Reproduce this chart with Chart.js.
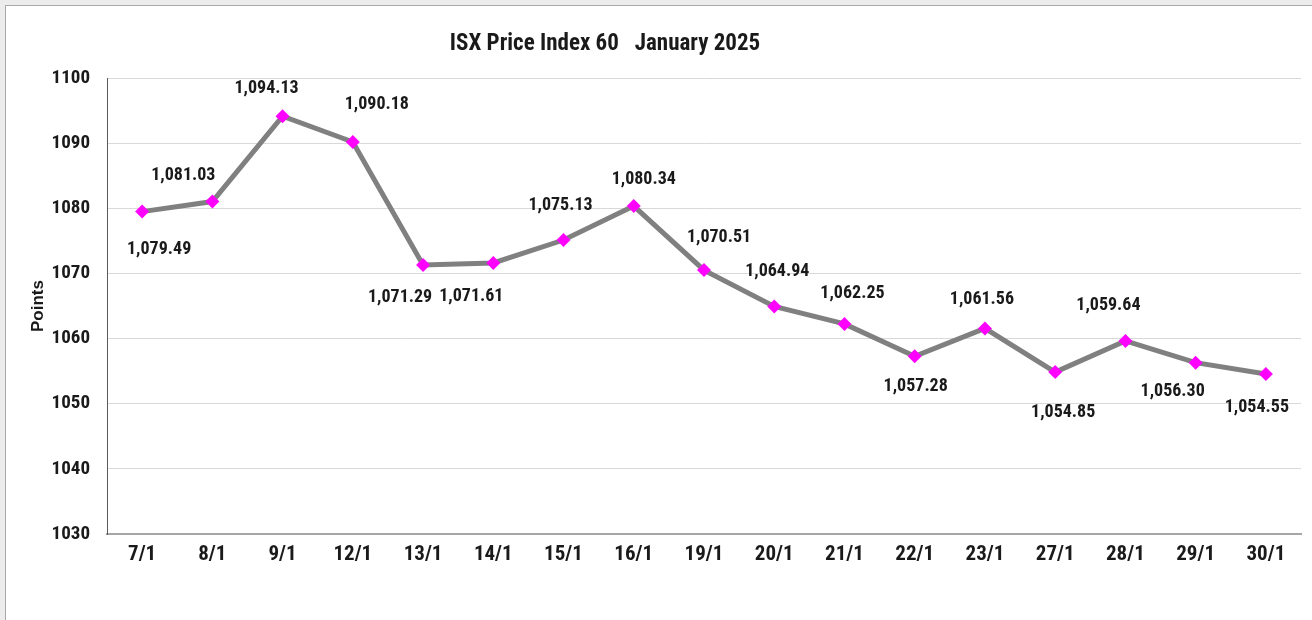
<!DOCTYPE html>
<html>
<head>
<meta charset="utf-8">
<script src="https://cdn.jsdelivr.net/npm/chart.js@4.4.1/dist/chart.umd.min.js"></script>
<style>
  html, body { margin: 0; padding: 0; background: #ececec; }
  #frame { position: absolute; left: 5px; top: 5px; width: 1310px; height: 620px; background: #ffffff; border-left: 1px solid #a8a8a8; border-top: 1px solid #a8a8a8; }
  #wrap { position: absolute; left: 0; top: 0; width: 1312px; height: 620px; }
</style>
</head>
<body>
<div id="frame"></div>
<div id="wrap"><canvas id="c" width="1312" height="620"></canvas></div>
<script>
const categories = ['7/1','8/1','9/1','12/1','13/1','14/1','15/1','16/1','19/1','20/1','21/1','22/1','23/1','27/1','28/1','29/1','30/1'];
const indexValues = [1079.49,1081.03,1094.13,1090.18,1071.29,1071.61,1075.13,1080.34,1070.51,1064.94,1062.25,1057.28,1061.56,1054.85,1059.64,1056.30,1054.55];
const yTicks = [1030,1040,1050,1060,1070,1080,1090,1100];
const chartTitle = 'ISX Price Index 60   January 2025';
const yTitle = 'Points';
// label placement relative to each point (dx, dy in px)
const labelDx = [17,-29,-16,24,-23,-22,-3,10,15,3,8,1,-3,8,-17,-23,-9];
const labelDy = [38,-26,-28,-37,32,34,-35,-27,-33,-35,-30,30,-29,40,-35,29,33];

const FONT = '"Liberation Sans Narrow", "Arial Narrow", "Roboto Condensed", "Liberation Sans", sans-serif';

const labelPlugin = {
  id: 'pointLabels',
  afterDatasetsDraw(chart) {
    const ctx = chart.ctx;
    const meta = chart.getDatasetMeta(0);
    ctx.save();
    ctx.font = 'bold 18px ' + FONT;
    ctx.fillStyle = '#1a1a1a';
    ctx.textAlign = 'center';
    ctx.textBaseline = 'middle';
    meta.data.forEach((pt, i) => {
      const v = indexValues[i].toLocaleString('en-US', {minimumFractionDigits: 2, maximumFractionDigits: 2});
      ctx.fillText(v, pt.x + labelDx[i], pt.y + labelDy[i]);
    });
    ctx.restore();
  }
};

const titlePlugin = {
  id: 'customTitle',
  afterDraw(chart) {
    const ctx = chart.ctx;
    ctx.save();
    ctx.font = 'bold 23px ' + FONT;
    ctx.fillStyle = '#1a1a1a';
    ctx.textAlign = 'center';
    ctx.textBaseline = 'middle';
    ctx.fillText(chartTitle, 605, 44);
    ctx.restore();
  }
};

new Chart(document.getElementById('c'), {
  type: 'line',
  data: {
    labels: categories,
    datasets: [{
      data: indexValues,
      borderColor: '#808080',
      borderWidth: 5,
      pointStyle: 'rectRot',
      pointRadius: 7,
      pointHoverRadius: 7,
      pointBackgroundColor: '#ff00ff',
      pointBorderColor: '#ff00ff',
      pointBorderWidth: 0,
      tension: 0,
      fill: false
    }]
  },
  options: {
    responsive: false,
    animation: false,
    events: [],
    layout: { padding: { left: 0, right: 11, top: 78, bottom: 0 } },
    plugins: { legend: { display: false }, title: { display: false }, tooltip: { enabled: false } },
    scales: {
      x: {
        offset: true,
        grid: { display: false, drawTicks: false },
        border: { display: true, color: '#a6a6a6', width: 2 },
        ticks: { color: '#1a1a1a', font: { family: FONT, size: 21, weight: 'bold' }, padding: 8, maxRotation: 0, autoSkip: false },
        afterFit(s) { s.height = 86; }
      },
      y: {
        min: 1030, max: 1100,
        afterBuildTicks(s) { s.ticks = yTicks.map(v => ({ value: v })); },
        grid: { color: '#d9d9d9', lineWidth: 1, drawTicks: false },
        border: { display: true, color: '#595959', width: 1 },
        ticks: { color: '#1a1a1a', font: { family: FONT, size: 19, weight: 'bold' }, padding: 17, callback: v => String(v) },
        title: { display: true, text: yTitle, color: '#1a1a1a', font: { family: 'Liberation Sans, Arial, sans-serif', size: 17, weight: 'bold' }, padding: { top: 28, bottom: 0 } },
        afterFit(s) { s.width = 107; }
      }
    }
  },
  plugins: [labelPlugin, titlePlugin]
});
</script>
</body>
</html>
